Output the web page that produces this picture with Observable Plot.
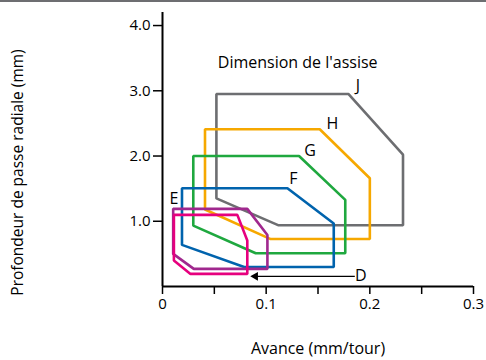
<!DOCTYPE html>
<html>
<head>
<meta charset="utf-8">
<script src="https://cdn.jsdelivr.net/npm/d3@7"></script>
<script src="https://cdn.jsdelivr.net/npm/@observablehq/plot@0.6"></script>
<style>
  body { margin: 0; background: #fff; }
  #wrap { position: relative; width: 486px; height: 360px; }
  #topbar { position: absolute; left: 0; top: 0; width: 486px; height: 2px; background: #6d6e71; }
  svg [aria-label$="tick"] path, svg [aria-label$="tick"] line { stroke-width: 1.5; }
</style>
</head>
<body>
<div id="wrap"><div id="topbar"></div></div>
<script>
// Insert sizes (series names)
const seriesNames = ["J", "H", "G", "F", "E", "D"];
// Feed (mm/tour) and depth (mm) of each polygon vertex
const feedJ = [0.052, 0.1795, 0.232, 0.232, 0.1115, 0.052];
const depthJ = [2.95, 2.95, 2.02, 0.94, 0.94, 1.35];
const feedH = [0.041, 0.1517, 0.200, 0.200, 0.1043, 0.041];
const depthH = [2.41, 2.41, 1.66, 0.727, 0.727, 1.18];
const feedG = [0.0297, 0.1317, 0.1763, 0.1763, 0.0899, 0.0297];
const depthG = [2.00, 2.00, 1.328, 0.509, 0.509, 0.934];
const feedF = [0.0188, 0.1205, 0.1652, 0.1652, 0.0787, 0.0188];
const depthF = [1.506, 1.506, 0.965, 0.298, 0.298, 0.638];
const feedE = [0.0103, 0.0818, 0.1012, 0.1012, 0.0302, 0.0103];
const depthE = [1.19, 1.19, 0.79, 0.27, 0.27, 0.50];
const feedD = [0.011, 0.0722, 0.0818, 0.0818, 0.027, 0.011];
const depthD = [1.098, 1.098, 0.704, 0.193, 0.193, 0.397];

// Label anchors (data units)
const labelFeed = [0.1884, 0.164, 0.1423, 0.1263, 0.011, 0.1913];
const labelDepth = [3.07, 2.494, 2.074, 1.65, 1.343, 0.156];
const titleText = "Dimension de l'assise";
const titleFeed = 0.1304, titleDepth = 3.43;
// Arrow for D
const arrowFeed = [0.1855, 0.0867];
const arrowDepth = 0.156;

const xTicks = [0, 0.05, 0.1, 0.15, 0.2, 0.25, 0.3];
const yTicks = [1, 2, 3, 4];

const colors = {J: "#6d6e71", H: "#f6a800", G: "#1fa83f", F: "#0063ad", E: "#a0288e", D: "#e6007e"};

const series = {J: [feedJ, depthJ], H: [feedH, depthH], G: [feedG, depthG], F: [feedF, depthF], E: [feedE, depthE], D: [feedD, depthD]};
const poly = [];
for (const name of seriesNames) {
  const [fx, fy] = series[name];
  fx.forEach((v, i) => poly.push({name, x: v, y: fy[i]}));
}
const labels = seriesNames.map((n, i) => ({name: n, x: labelFeed[i], y: labelDepth[i]}));

const chart = Plot.plot({
  width: 486,
  height: 360,
  marginLeft: 162,
  marginRight: 13,
  marginTop: 12,
  marginBottom: 74,
  style: {fontFamily: "'Open Sans', sans-serif", fontSize: "15px", color: "#000", background: "transparent"},
  x: {domain: [0, 0.3], ticks: xTicks, tickSize: 8, tickPadding: 4, label: null,
      tickFormat: d => d === 0 ? "0" : (Math.abs(Math.round(d * 100) % 10) === 0 ? d.toFixed(1) : "")},
  y: {domain: [0, 4.2], ticks: yTicks, tickSize: 9, tickPadding: 3, label: null, tickFormat: d => d.toFixed(1)},
  color: {domain: seriesNames, range: seriesNames.map(n => colors[n])},
  marks: [
    Plot.line(poly, {x: "x", y: "y", z: "name", stroke: "name", strokeWidth: 2.6, curve: "linear-closed", strokeLinejoin: "miter"}),
    Plot.ruleX([0], {stroke: "#000", strokeWidth: 2}),
    Plot.ruleY([0], {stroke: "#000", strokeWidth: 2}),
    Plot.link([{x1: arrowFeed[0], x2: arrowFeed[1], y: arrowDepth}], {x1: "x1", x2: "x2", y1: "y", y2: "y", stroke: "#000", strokeWidth: 1.2}),
    Plot.dot([{x: arrowFeed[1], y: arrowDepth}], {x: "x", y: "y", symbol: "triangle", rotate: -90, r: 3.3, fill: "#000", stroke: "none", dx: 3}),
    Plot.text(labels, {x: "x", y: "y", text: "name", fill: "#000", fontSize: 16}),
    Plot.text([titleText], {x: () => titleFeed, y: () => titleDepth, text: d => d, fill: "#000", fontSize: 16}),
    Plot.text(["Profondeur de passe radiale (mm)"], {frameAnchor: "left", textAnchor: "middle", dx: -144, dy: 23, rotate: -90, text: d => d, fill: "#000", fontSize: 15.5}),
    Plot.text(["Avance (mm/tour)"], {frameAnchor: "bottom", dy: 67, text: d => d, fill: "#000", fontSize: 16})
  ]
});
document.getElementById("wrap").appendChild(chart);
chart.style.position = "absolute";
chart.style.left = "0";
chart.style.top = "0";
</script>
</body>
</html>
